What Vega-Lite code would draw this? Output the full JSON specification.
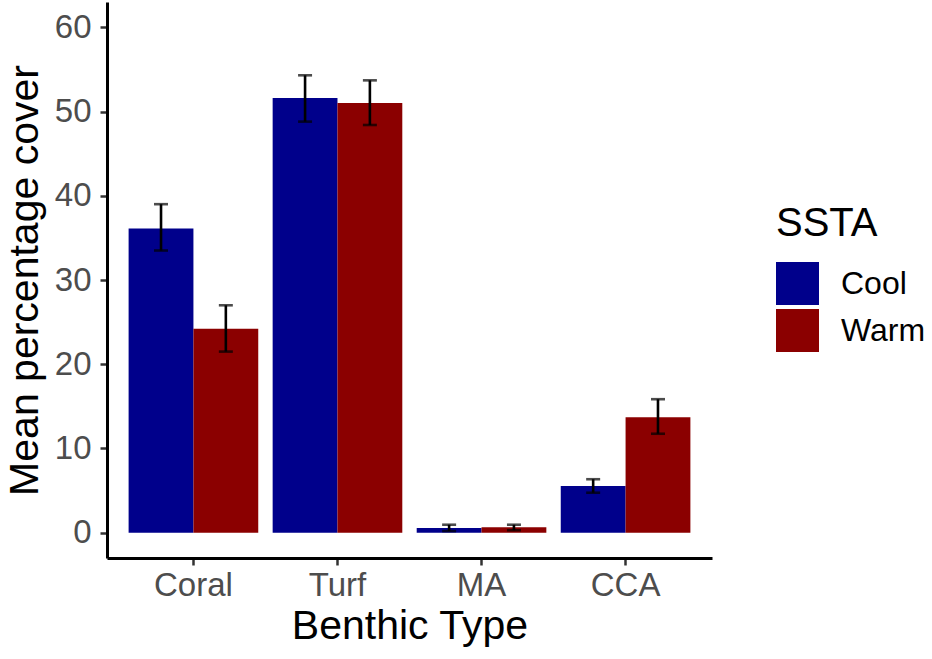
{
  "$schema": "https://vega.github.io/schema/vega-lite/v6.json",
  "width": 605,
  "height": 556,
  "autosize": {"type": "none"},
  "padding": {"left": 107, "top": 2, "right": 220, "bottom": 101},
  "background": "white",
  "data": {
    "values": [
      {"type": "Coral", "SSTA": "Cool", "mean": 36.1, "lo": 33.5, "hi": 39.0},
      {"type": "Coral", "SSTA": "Warm", "mean": 24.2, "lo": 21.5, "hi": 27.0},
      {"type": "Turf", "SSTA": "Cool", "mean": 51.6, "lo": 48.8, "hi": 54.3},
      {"type": "Turf", "SSTA": "Warm", "mean": 51.0, "lo": 48.4, "hi": 53.7},
      {"type": "MA", "SSTA": "Cool", "mean": 0.55, "lo": 0.2, "hi": 0.95},
      {"type": "MA", "SSTA": "Warm", "mean": 0.65, "lo": 0.3, "hi": 0.95},
      {"type": "CCA", "SSTA": "Cool", "mean": 5.55, "lo": 4.75, "hi": 6.35},
      {"type": "CCA", "SSTA": "Warm", "mean": 13.7, "lo": 11.75, "hi": 15.85}
    ]
  },
  "encoding": {
    "x": {
      "field": "type",
      "type": "nominal",
      "sort": ["Coral", "Turf", "MA", "CCA"],
      "scale": {"paddingInner": 0.1, "paddingOuter": 0.15},
      "axis": {
        "title": "Benthic Type",
        "labelAngle": 0,
        "labelFontSize": 33,
        "labelColor": "#4D4D4D",
        "labelPadding": 4,
        "tickSize": 7,
        "tickWidth": 2.5,
        "tickColor": "#333333",
        "domainColor": "black",
        "domainWidth": 3,
        "titleFontSize": 41,
        "titlePadding": 4
      }
    },
    "xOffset": {
      "field": "SSTA",
      "type": "nominal",
      "scale": {"paddingInner": 0, "paddingOuter": 0}
    }
  },
  "layer": [
    {
      "mark": {"type": "bar"},
      "encoding": {
        "y": {
          "field": "mean",
          "type": "quantitative",
          "scale": {"domain": [-3, 63], "nice": false, "zero": false},
          "axis": {
            "title": "Mean percentage cover",
            "values": [0, 10, 20, 30, 40, 50, 60],
            "grid": false,
            "labelFontSize": 33,
            "labelColor": "#4D4D4D",
            "labelPadding": 9,
            "tickSize": 7,
            "tickWidth": 2.5,
            "tickColor": "#333333",
            "domainColor": "black",
            "domainWidth": 3,
            "titleFontSize": 41,
            "titlePadding": 8
          }
        },
        "y2": {"datum": 0},
        "color": {
          "field": "SSTA",
          "type": "nominal",
          "scale": {"domain": ["Cool", "Warm"], "range": ["#00008B", "#8B0000"]},
          "legend": {
            "title": "SSTA",
            "orient": "none",
            "legendX": 669,
            "legendY": 202,
            "titleFontSize": 40,
            "titleFontWeight": "normal",
            "titleColor": "black",
            "titlePadding": 18,
            "labelFontSize": 32,
            "labelColor": "black",
            "labelOffset": 22,
            "symbolType": "square",
            "symbolSize": 1849,
            "symbolStrokeWidth": 0,
            "symbolOpacity": 1,
            "rowPadding": 4
          }
        }
      }
    },
    {
      "mark": {"type": "rule", "color": "black", "strokeWidth": 2.6},
      "encoding": {
        "y": {"field": "lo", "type": "quantitative"},
        "y2": {"field": "hi"}
      }
    },
    {
      "mark": {"type": "tick", "color": "black", "thickness": 2.6, "size": 14, "orient": "horizontal"},
      "encoding": {
        "y": {"field": "lo", "type": "quantitative"}
      }
    },
    {
      "mark": {"type": "tick", "color": "black", "thickness": 2.6, "size": 14, "orient": "horizontal"},
      "encoding": {
        "y": {"field": "hi", "type": "quantitative"}
      }
    }
  ],
  "config": {
    "font": "Liberation Sans",
    "view": {"stroke": null},
    "axis": {"titleFontWeight": "normal", "titleColor": "black"}
  }
}
